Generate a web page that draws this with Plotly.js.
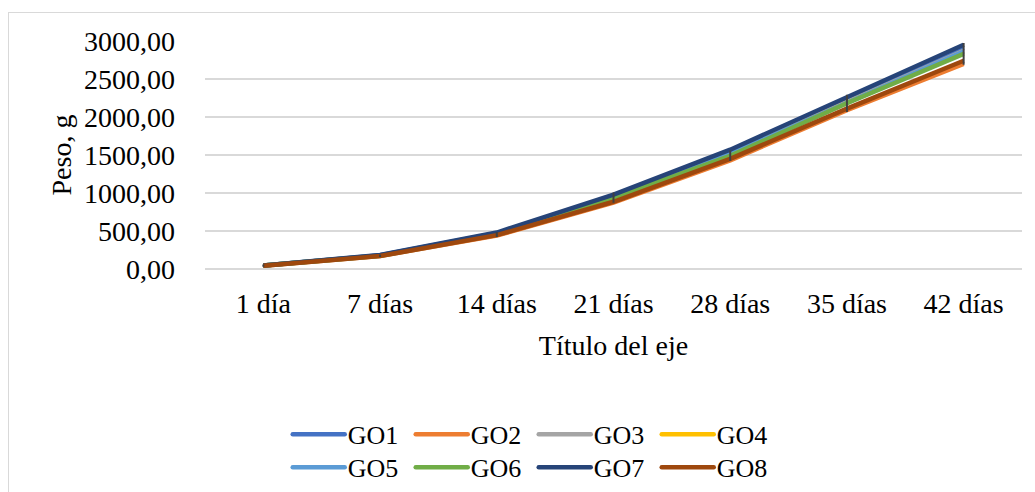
<!DOCTYPE html>
<html>
<head>
<meta charset="utf-8">
<script src="https://cdn.plot.ly/plotly-3.0.1.min.js"></script>
<style>
  html, body { margin: 0; padding: 0; background: #fff; }
  #wrap { position: relative; width: 1035px; height: 492px; overflow: hidden; }
  #chart { position: absolute; left: 0; top: 0; width: 1035px; height: 492px; }
  #frame { position: absolute; left: 8px; top: 12px; width: 1100px; height: 600px;
           border: 1px solid #d9d9d9; pointer-events: none; }
</style>
</head>
<body>
<div id="wrap">
  <div id="chart"></div>
  <div id="frame"></div>
</div>
<script>
// Categories (age of the birds)
const dias = ['1 día', '7 días', '14 días', '21 días', '28 días', '35 días', '42 días'];

// Body weight (g) per group
const GO1 = [45, 180, 470, 960, 1550, 2230, 2910];
const GO2 = [44, 172, 440, 875, 1430, 2090, 2700];
const GO3 = [45, 178, 465, 950, 1525, 2200, 2870];
const GO4 = [45, 176, 460, 945, 1510, 2190, 2850];
const GO5 = [45, 177, 462, 948, 1515, 2195, 2860];
const GO6 = [45, 175, 455, 940, 1490, 2180, 2830];
const GO7 = [46, 185, 480, 980, 1570, 2260, 2950];
const GO8 = [44, 170, 445, 885, 1450, 2110, 2740];

// Dispersion shown on GO6
const GO6_err = [2, 4, 20, 55, 55, 100, 130];

// Y tick labels (comma decimal)
const yTicks = [0, 500, 1000, 1500, 2000, 2500, 3000];
const yTickText = ['0,00', '500,00', '1000,00', '1500,00', '2000,00', '2500,00', '3000,00'];

const nombres = ['GO1', 'GO2', 'GO3', 'GO4', 'GO5', 'GO6', 'GO7', 'GO8'];
const series = [GO1, GO2, GO3, GO4, GO5, GO6, GO7, GO8];
const colores = ['#4472C4', '#ED7D31', '#A5A5A5', '#FFC000', '#5B9BD5', '#70AD47', '#264478', '#9E480E'];

const fontFam = '"Liberation Serif", "Times New Roman", serif';

const traces = series.map((y, i) => ({
  type: 'scatter',
  mode: 'lines',
  name: nombres[i],
  x: dias,
  y: y,
  legend: i < 4 ? 'legend' : 'legend2',
  line: { color: colores[i], width: 4.5 },
  hoverinfo: 'x+y+name'
}));

// GO6 error bars, drawn last so they sit above all lines
traces.push({
  type: 'scatter',
  mode: 'markers',
  x: dias,
  y: GO6,
  showlegend: false,
  marker: { size: 1, opacity: 0 },
  error_y: { type: 'data', array: GO6_err, visible: true, color: '#404040', thickness: 2, width: 1 },
  hoverinfo: 'skip'
});

const legendBase = {
  orientation: 'h',
  xref: 'container',
  yref: 'container',
  x: 0.278,
  xanchor: 'left',
  yanchor: 'top',
  font: { family: fontFam, size: 26, color: '#000' },
  entrywidth: 58,
  entrywidthmode: 'pixels',
  itemwidth: 50,
  bgcolor: 'rgba(0,0,0,0)'
};

const layout = {
  width: 1035,
  height: 492,
  margin: { l: 205, r: 13, t: 41, b: 223, autoexpand: false },
  paper_bgcolor: '#ffffff',
  plot_bgcolor: '#ffffff',
  font: { family: fontFam, size: 28, color: '#000000' },
  showlegend: true,
  xaxis: {
    type: 'category',
    range: [-0.5, 6.5],
    showgrid: false,
    zeroline: false,
    showline: false,
    ticks: '',
    tickfont: { family: fontFam, size: 28, color: '#000' },
    ticklabelstandoff: 15,
    automargin: false,
    title: { text: 'Título del eje', font: { family: fontFam, size: 28, color: '#000' }, standoff: 17 }
  },
  yaxis: {
    range: [0, 3000],
    tickvals: yTicks,
    ticktext: yTickText,
    showgrid: true,
    gridcolor: '#d9d9d9',
    gridwidth: 1.5,
    zeroline: true,
    zerolinecolor: '#d9d9d9',
    zerolinewidth: 1.5,
    showline: false,
    ticks: '',
    automargin: false,
    tickfont: { family: fontFam, size: 28, color: '#000' },
    ticklabelstandoff: 29,
    title: { text: 'Peso, g', font: { family: fontFam, size: 28, color: '#000' }, standoff: 4 }
  },
  legend: Object.assign({}, legendBase, { y: 0.165 }),
  legend2: Object.assign({}, legendBase, { y: 0.098 })
};

Plotly.newPlot('chart', traces, layout, { displayModeBar: false, staticPlot: true }).then(gd => {
  // longer legend line samples with rounded ends
  gd.querySelectorAll('.legendlines path').forEach(p => {
    p.setAttribute('d', 'M5,0h52');
    p.style.strokeLinecap = 'round';
  });
});
</script>
</body>
</html>
